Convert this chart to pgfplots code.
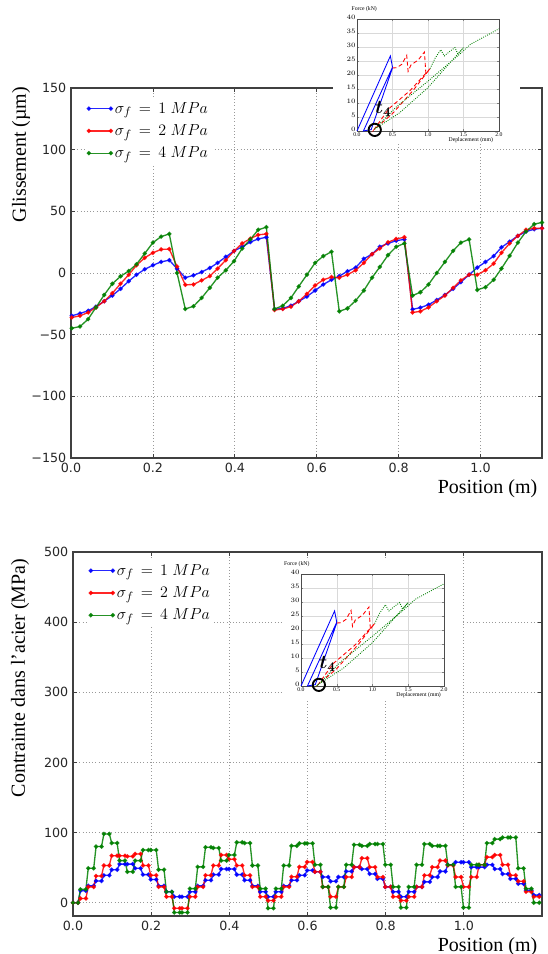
\documentclass[border=0pt]{standalone}
\usepackage{fontspec}
\setmainfont{Liberation Serif}
\newfontfamily\dv{DejaVu Sans}
\usepackage{pgfplots}
\pgfplotsset{compat=1.18}
\usepackage{pgfplotstable}

\definecolor{mblue}{rgb}{0,0,1}
\definecolor{mred}{rgb}{1,0,0}
\definecolor{mgreen}{rgb}{0,0.5,0}

\pgfplotstableread{
x b r g
0.002 -34.7 -36.1 -44.8
0.022 -32.8 -34.7 -43.4
0.042 -30.6 -32.0 -37.4
0.061 -27.3 -27.9 -27.9
0.081 -22.9 -22.9 -17.8
0.101 -18.3 -16.4 -8.7
0.121 -12.8 -8.7 -2.7
0.141 -6.6 -1.4 1.6
0.160 -1.4 6.3 7.1
0.180 3.0 12.3 15.8
0.200 6.3 16.4 24.6
0.220 9.0 19.1 29.5
0.240 10.4 19.4 31.7
0.259 3.5 5.2 0.0
0.279 -3.8 -9.6 -29.2
0.299 -1.9 -9.3 -27.0
0.319 0.8 -6.0 -20.2
0.339 4.1 -2.5 -12.0
0.358 8.2 3.6 -3.8
0.378 13.1 10.4 2.2
0.398 17.8 17.8 9.6
0.418 21.3 24.0 19.9
0.438 25.1 27.9 27.3
0.457 27.6 30.9 35.0
0.477 29.0 31.7 37.2
0.497 -29.5 -30.0 -29.2
0.517 -28.7 -29.2 -26.5
0.537 -26.5 -27.3 -20.2
0.556 -23.0 -23.0 -10.9
0.576 -19.1 -16.9 -1.4
0.596 -14.2 -10.1 8.2
0.616 -9.3 -5.5 13.7
0.636 -5.5 -3.3 17.2
0.655 -2.5 -3.8 -31.1
0.675 1.4 -1.4 -28.7
0.695 4.4 2.2 -22.4
0.715 11.5 8.2 -14.2
0.735 15.3 15.3 -3.8
0.754 21.3 19.9 4.9
0.774 24.0 24.9 14.5
0.794 26.2 27.6 21.3
0.814 27.3 29.0 24.0
0.834 -29.5 -32.0 -18.3
0.853 -28.1 -31.1 -15.6
0.873 -25.7 -27.9 -9.3
0.893 -21.9 -22.9 0.0
0.913 -17.8 -18.3 9.0
0.933 -12.8 -12.0 18.0
0.952 -7.4 -6.0 24.6
0.972 -1.4 -1.4 27.3
0.992 4.4 -1.4 -13.7
1.012 9.0 2.2 -11.5
1.032 13.7 7.6 -5.5
1.051 20.8 16.4 3.6
1.071 25.4 24.0 13.9
1.091 30.1 30.1 24.6
1.111 33.6 35.0 33.6
1.131 35.5 36.3 39.6
1.150 36.3 36.3 41.0
}\topdata

\pgfplotstableread{
x b r g
0.000 0 0 0
0.013 0 0 0
0.019 17 6 19
0.033 17 6 19
0.039 24 22.5 49
0.053 24 22.5 49
0.059 31 38 80
0.073 31 38 80
0.079 39 53 98
0.093 39 53 98
0.099 47 67 85
0.113 47 67 85
0.119 55 67 60
0.133 55 67 60
0.139 55 66 44
0.153 55 66 44
0.159 49 69.5 60
0.173 49 69.5 60
0.179 40 53 75
0.193 40 53 75
0.199 33 39 75
0.213 33 39 75
0.219 24 22.5 47
0.233 24 22.5 47
0.239 15.5 8.5 15.5
0.253 15.5 8.5 15.5
0.259 8.5 -8 -14
0.273 8.5 -8 -14
0.279 8.5 -8 -14
0.293 8.5 -8 -14
0.299 15.5 8.5 20
0.313 15.5 8.5 20
0.319 24 22.5 51
0.333 24 22.5 51
0.339 32 39 79
0.353 32 39 79
0.359 40 53 78
0.373 40 53 78
0.379 48 68 60
0.393 48 68 60
0.399 48 62 68
0.413 48 62 68
0.419 40 53 86
0.433 40 53 86
0.439 32 39 85
0.453 32 39 85
0.459 24 22.5 53
0.473 24 22.5 53
0.479 15.5 8.5 20
0.493 15.5 8.5 20
0.499 8.5 3 -8
0.513 8.5 3 -8
0.519 15.5 8.5 20
0.533 15.5 8.5 20
0.539 24 22.5 53
0.553 24 22.5 53
0.559 32 37 81
0.573 32 37 81
0.579 39 51 84.5
0.593 39 51 84.5
0.599 46 58 84.5
0.613 46 58 84.5
0.619 44 44 54
0.633 44 44 54
0.639 36.6 22.5 22.5
0.653 36.6 22.5 22.5
0.659 30.5 8.5 -7
0.673 30.5 8.5 -7
0.679 36.6 22.5 22.5
0.693 36.6 22.5 22.5
0.699 44.6 36.6 54
0.713 44.6 36.6 54
0.719 50.7 50.7 82.6
0.733 50.7 50.7 82.6
0.739 48 63.4 81
0.753 48 63.4 81
0.759 41 50.7 83.6
0.773 41 50.7 83.6
0.779 34 36.6 83.6
0.793 34 36.6 83.6
0.799 22.5 22.5 54
0.813 22.5 22.5 54
0.819 15.5 8.5 22.5
0.833 15.5 8.5 22.5
0.839 8.5 3 -7
0.853 8.5 3 -7
0.859 15.5 8.5 22.5
0.873 15.5 8.5 22.5
0.879 22.5 22.5 54
0.893 22.5 22.5 54
0.899 29.6 39 83.6
0.913 29.6 39 83.6
0.919 36.6 50.7 81
0.933 36.6 50.7 81
0.939 44.6 60 81
0.953 44.6 60 81
0.959 54 53 54
0.973 54 53 54
0.979 57.7 36.6 22.5
0.993 57.7 36.6 22.5
0.999 57.7 22.5 -7
1.013 57.7 22.5 -7
1.019 50.7 36.6 54
1.033 50.7 36.6 54
1.039 50.7 54 54
1.053 50.7 54 54
1.059 54 65 85
1.073 54 65 85
1.079 48 68 90.6
1.093 48 68 90.6
1.099 41 54 93
1.113 41 54 93
1.119 34 39 93
1.133 34 39 93
1.139 27 30.5 49
1.153 27 30.5 49
1.159 17.8 15.5 20
1.173 17.8 15.5 20
1.179 10.8 8.5 0
1.193 10.8 8.5 0
}\botdata

\pgfplotstableread{
x y
0.00 0.0
0.47 26.8
0.50 22.8
0.09 0.0
0.20 0.5
0.50 22.5
}\insblue

\pgfplotstableread{
x y
0.50 22.5
0.56 22.6
0.63 23.8
0.70 27.0
0.72 21.3
0.76 23.6
0.86 25.3
0.95 28.2
0.97 20.5
1.03 22.3
0.80 14.8
0.50 6.2
0.24 0.5
0.45 8.0
0.75 14.5
1.03 22.3
}\insred

\pgfplotstableread{
x y
1.03 22.3
1.10 26.0
1.18 29.0
1.23 26.8
1.30 28.3
1.38 29.8
1.42 27.5
1.50 29.8
1.00 15.5
0.60 6.5
0.24 0.5
0.55 8.5
1.00 17.8
1.45 27.5
1.60 31.0
2.00 36.5
}\insgreen

\tikzset{tlab/.style={font=\fontsize{14}{14}\selectfont\boldmath, inner sep=0pt}}

\pgfplotsset{
  mainax/.style={
    scale only axis, anchor=south west,
    axis line style={line width=0.9pt, black!75},
    grid=major, major grid style={dotted, gray!80, line width=0.6pt},
    xtick pos=both, ytick pos=both, tick align=inside,
    major tick length=3pt, tick style={black!75, line width=0.6pt},
    tick label style={font=\dv\fontsize{9.5}{11}\selectfont, text=black!85},
    label style={font=\fontsize{15}{17}\selectfont},
    legend cell align=left,
    legend style={draw=none, fill=white, font=\fontsize{12.5}{14}\selectfont,
      anchor=north west, row sep=3pt, inner sep=1.5pt},
  },
  ser/.style={line width=1pt, mark=*, mark size=1.1pt, opacity=0.85},
  inset/.style={
    scale only axis, anchor=south west, width=106.5pt, height=84pt,
    xmin=0, xmax=2, ymin=0, ymax=40, clip=false,
    xtick={0,0.5,1,1.5,2}, xticklabels={0.0,0.5,1.0,1.5,2.0},
    ytick={0,5,...,40},
    grid=major, major grid style={gray!30, line width=0.3pt},
    axis line style={line width=0.4pt, black!70},
    tick style={line width=0.3pt}, major tick length=1.5pt,
    tick label style={font=\fontsize{4.3}{4.8}\selectfont, inner sep=0.8pt},
    yticklabel style={yshift=1.2pt},
  },
  insser/.style={line width=0.65pt, densely dashed},
}

\begin{document}
\begin{tikzpicture}
\useasboundingbox (0,0) rectangle (410.25pt,715.5pt);

% ---------- top axis ----------
\begin{axis}[mainax,
  at={(53.25pt,372pt)}, width=353.25pt, height=277.5pt,
  xmin=0, xmax=1.15, ymin=-150, ymax=150,
  xtick={0,0.2,0.4,0.6,0.8,1.0}, xticklabels={0.0,0.2,0.4,0.6,0.8,1.0},
  ytick={-150,-100,-50,0,50,100,150},
  yticklabels={−150,−100,−50,0,50,100,150},
  xlabel={Position (m)}, ylabel={Glissement (µm)},
  xlabel style={at={(axis description cs:1,0)}, anchor=north east, yshift=-13pt},
  ylabel style={at={(axis description cs:-0.106,0.82)}, anchor=center},
  legend style={at={(axis description cs:0.03,0.975)}},
  legend image code/.code={\draw[mark repeat=2,mark phase=1,#1] plot coordinates {(0cm,0cm) (0.29cm,0cm) (0.58cm,0cm)};},
]
\addplot[ser, color=mblue] table[x=x,y=b] {\topdata};
\addlegendentry{$\sigma_f\,=\,1\;MPa$}
\addplot[ser, color=mred] table[x=x,y=r] {\topdata};
\addlegendentry{$\sigma_f\,=\,2\;MPa$}
\addplot[ser, color=mgreen] table[x=x,y=g] {\topdata};
\addlegendentry{$\sigma_f\,=\,4\;MPa$}
\end{axis}

\fill[white] (249.75pt,608.25pt) rectangle (390pt,715.5pt);

\begin{axis}[inset, at={(267.75pt,617.25pt)}]
\addplot[insser, color=mblue, solid] table {\insblue};
\addplot[insser, color=mred] table {\insred};
\addplot[insser, color=mgreen, densely dotted] table {\insgreen};
\draw[line width=1.4pt] (axis cs:0.25,0.4) circle[radius=4.6pt];
\node[tlab] at (axis cs:0.37,7.8) {$t_4$};
\node[anchor=south west, font=\fontsize{4.3}{5}\selectfont, inner sep=0pt] at (axis description cs:-0.04,1.06) {Force (kN)};
\node[anchor=north east, font=\fontsize{4.3}{5}\selectfont, inner sep=0pt] at (axis description cs:0.96,-0.06) {Deplacement (mm)};
\end{axis}

% ---------- bottom axis ----------
\begin{axis}[mainax,
  at={(54.75pt,28.5pt)}, width=351.75pt, height=273pt,
  xmin=0, xmax=1.2, ymin=-19, ymax=500,
  xtick={0,0.2,0.4,0.6,0.8,1.0}, xticklabels={0.0,0.2,0.4,0.6,0.8,1.0},
  ytick={0,100,200,300,400,500}, yticklabels={0,100,200,300,400,500},
  xlabel={Position (m)}, ylabel={Contrainte dans l’acier (MPa)},
  xlabel style={at={(axis description cs:1,0)}, anchor=north east, yshift=-12.5pt},
  ylabel style={at={(axis description cs:-0.113,0.654)}, anchor=center},
  legend style={at={(axis description cs:0.03,0.98)}},
  legend image code/.code={\draw[mark repeat=2,mark phase=1,#1] plot coordinates {(0cm,0cm) (0.29cm,0cm) (0.58cm,0cm)};},
]
\addplot[ser, color=mblue] table[x=x,y=b] {\botdata};
\addlegendentry{$\sigma_f\,=\,1\;MPa$}
\addplot[ser, color=mred] table[x=x,y=r] {\botdata};
\addlegendentry{$\sigma_f\,=\,2\;MPa$}
\addplot[ser, color=mgreen] table[x=x,y=g] {\botdata};
\addlegendentry{$\sigma_f\,=\,4\;MPa$}
\end{axis}

\fill[white] (212pt,190.5pt) rectangle (347.25pt,297pt);

\begin{axis}[inset, at={(225.75pt,201pt)}, width=107.25pt]
\addplot[insser, color=mblue, solid] table {\insblue};
\addplot[insser, color=mred] table {\insred};
\addplot[insser, color=mgreen, densely dotted] table {\insgreen};
\draw[line width=1.4pt] (axis cs:0.25,0.4) circle[radius=4.6pt];
\node[tlab] at (axis cs:0.37,7.8) {$t_4$};
\node[anchor=south west, font=\fontsize{4.3}{5}\selectfont, inner sep=0pt] at (axis description cs:-0.12,1.06) {Force (kN)};
\node[anchor=north east, font=\fontsize{4.3}{5}\selectfont, inner sep=0pt] at (axis description cs:0.98,-0.06) {Deplacement (mm)};
\end{axis}
\end{tikzpicture}
\end{document}
